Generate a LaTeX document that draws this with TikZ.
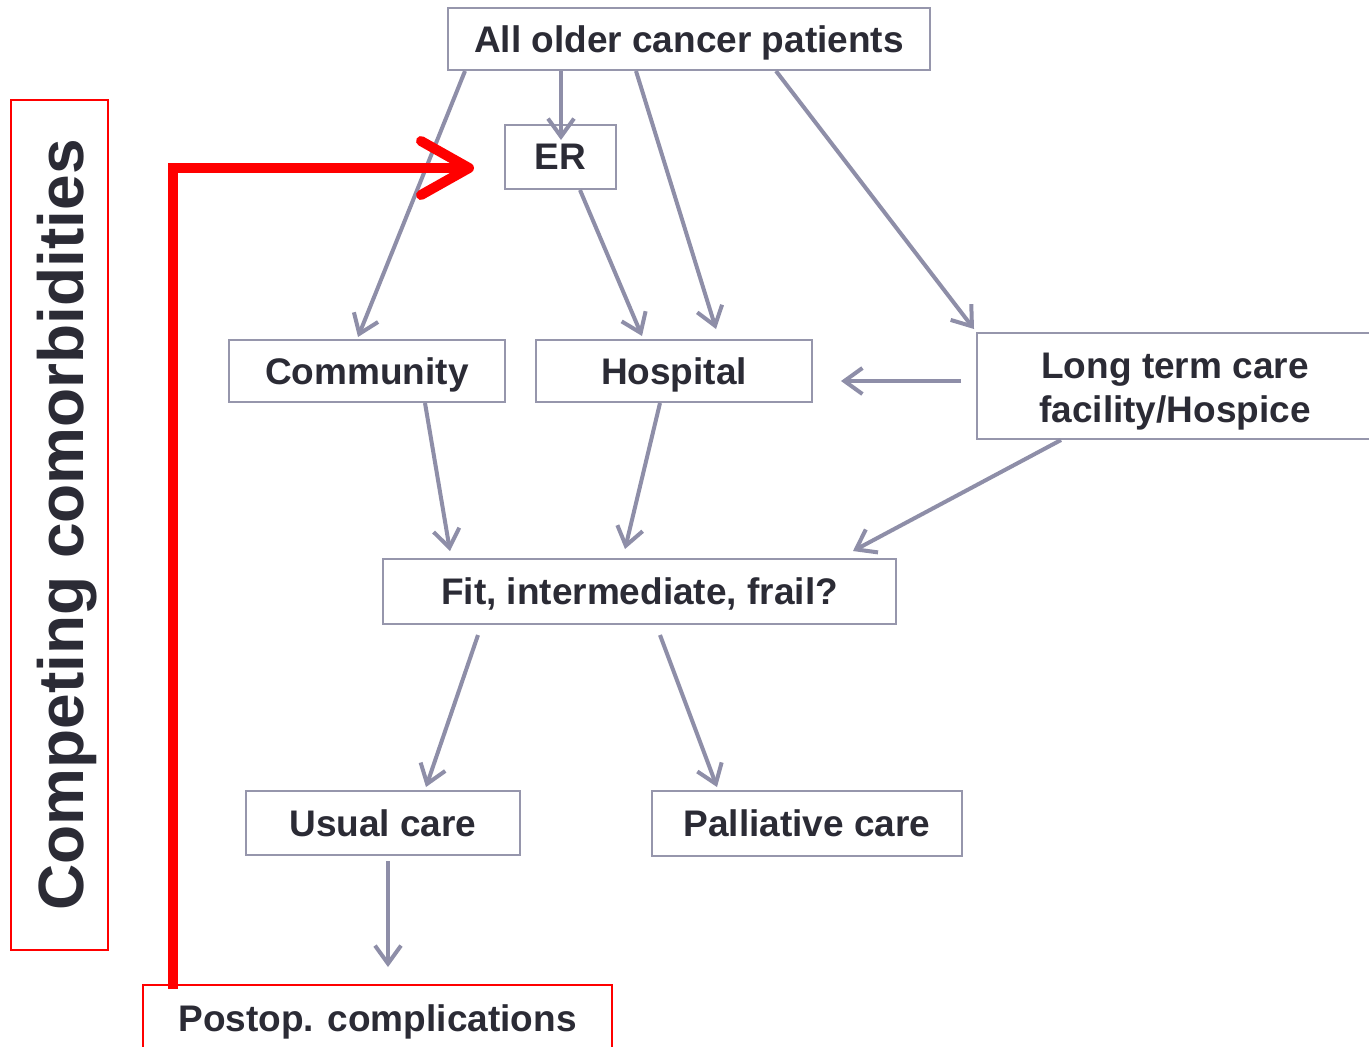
\documentclass[tikz,border=0pt]{standalone}
\usepackage{fontspec}
\setmainfont{Liberation Sans}
\usetikzlibrary{arrows.meta,calc}
\definecolor{txt}{RGB}{43,43,53}
\definecolor{ln}{RGB}{142,142,168}
\definecolor{bx}{RGB}{150,150,172}
\definecolor{rd}{RGB}{255,0,0}
\tikzset{
  box/.style={draw=bx, line width=1pt, inner sep=0pt, text=txt, text depth=0pt, font=\bfseries\fontsize{18.5}{22}\selectfont, align=center},
  redbox/.style={draw=rd, line width=1pt, inner sep=0pt, text=txt, font=\bfseries\fontsize{18.5}{22}\selectfont},
  conn/.style={draw=ln, line width=2pt, -{Straight Barb[length=9pt,width=13pt]}},
  redarr/.style={draw=rd, line width=5pt, -{Straight Barb[length=24pt,width=27pt,round]}}
}
\begin{document}
\begin{tikzpicture}[x=0.5pt,y=-0.5pt]
\clip (0,0) rectangle (1369,1046);
\fill[white] (0,0) rectangle (1369,1046);
% nodes
\node[box, minimum width=241pt, minimum height=31pt] (all) at (689,39) {All older cancer patients};
\node[box, minimum width=55.5pt, minimum height=32pt] (er) at (560.5,157) {ER};
\node[box, minimum width=138pt, minimum height=31pt] (comm) at (367,371) {Community};
\node[box, minimum width=138pt, minimum height=31pt] (hosp) at (674,371) {Hospital};
\node[box, minimum width=201.5pt, minimum height=53pt] (ltc) at (1178.5,386) {};
\node[text=txt, font=\bfseries\fontsize{18.5}{22}\selectfont, align=center] (ltctext) at (1175,392) {Long term care\\facility/Hospice};
\node[box, minimum width=256.5pt, minimum height=32.5pt] (fit) at (639.5,591.5) {Fit, intermediate, frail?};
\node[box, minimum width=137pt, minimum height=32pt] (usual) at (383,823) {Usual care};
\node[box, minimum width=155pt, minimum height=32.5pt] (pall) at (807,823.5) {Palliative care};
\node[redbox, minimum width=234.5pt, minimum height=35pt] (postop) at (377.5,1020) {};
\node[text=txt, font=\bfseries\fontsize{18.5}{22}\selectfont] (postoptext) at (377.5,1022) {Postop. complications};
\node[draw=rd, line width=1pt, minimum width=48.5pt, minimum height=425pt, inner sep=0pt] (compbox) at (59.5,525) {};
\node[rotate=90, text=txt, font=\bfseries\fontsize{32}{36}\selectfont, inner sep=0pt] (comp) at (67,525) {Competing comorbidities};
% connectors
\draw[conn] ($(all.south west)+(18,0)$) -- ($(comm.north)+(-9,-2)$);
\draw[conn] ($(all.south)+(-128,0)$) -- ($(er.north)+(0.5,16)$);
\draw[conn] ($(all.south)+(-53,0)$) -- ($(hosp.north)+(42,-10)$);
\draw[conn] ($(all.south)+(87,0)$) -- ($(ltc.north west)+(-2,-3)$);
\draw[conn] ($(er.south)+(19.5,0)$) -- ($(hosp.north)+(-32,-3)$);
\draw[conn] ($(ltc.west)+(-15,-5)$) -- ($(hosp.east)+(28,10)$);
\draw[conn] ($(comm.south)+(58,0)$) -- ($(fit.north)+(-189.5,-7)$);
\draw[conn] ($(hosp.south)+(-14,0)$) -- ($(fit.north)+(-14.5,-9)$);
\draw[conn] ($(ltc.south west)+(85,0)$) -- ($(fit.north)+(213.5,-7)$);
\draw[conn] ($(fit.south)+(-161.5,10)$) -- ($(usual.north)+(43,-3)$);
\draw[conn] ($(fit.south)+(20.5,10)$) -- ($(pall.north)+(-90,-3)$);
\draw[conn] ($(usual.south)+(5,5)$) -- ($(postop.north)+(10.5,-17)$);
% red arrow
\draw[redarr] ($(postop.north west)+(31,5)$) |- ($(er.west)+(-30,11)$);
\end{tikzpicture}
\end{document}
